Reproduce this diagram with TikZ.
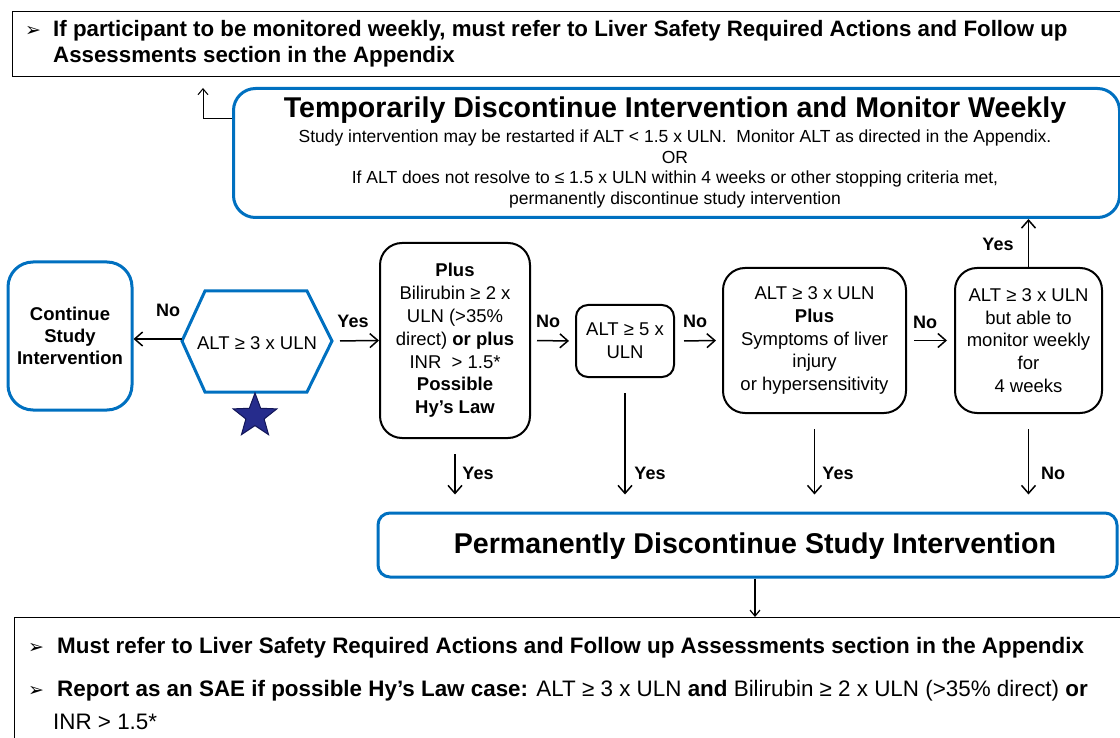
\documentclass[tikz,border=0pt]{standalone}
\usepackage{fontspec}
\setmainfont{Liberation Sans}
\newfontfamily\dejavu{DejaVu Sans}
\usetikzlibrary{arrows.meta,shapes.geometric,calc}
\definecolor{ablue}{RGB}{0,112,192}
\definecolor{starfill}{RGB}{38,44,140}
\definecolor{staredge}{RGB}{18,22,88}
\begin{document}
\begin{tikzpicture}[x=1pt,y=-1pt,
  bluebox/.style={draw=ablue, line width=3pt, rounded corners=22pt, align=center, inner sep=0pt},
  blackbox/.style={draw=black, line width=2pt, rounded corners=22pt, align=center, inner sep=0pt,
     font=\fontsize{18.5}{22.8}\selectfont},
  notebox/.style={draw=black, line width=1pt, inner sep=0pt, anchor=north west},
  arr/.style={-{Straight Barb[length=8pt,width=14pt]}, line width=1.5pt},
  thinarr/.style={-{Straight Barb[length=6pt,width=10pt]}, line width=1pt},
  lbl/.style={font=\fontsize{18}{20}\selectfont\bfseries, inner sep=0pt},
  body/.style={font=\fontsize{18.5}{22.8}\selectfont, inner sep=0pt},
  line/.style={anchor=base west, inner sep=0pt, font=\fontsize{22.4}{26}\selectfont},
  bullet/.style={anchor=base west, inner sep=0pt, font=\dejavu\fontsize{19}{22}\selectfont}
]
\useasboundingbox (0,0) rectangle (1120,738);

% top note
\node[notebox, minimum width=1120, minimum height=65] (top) at (12,11) {};
\node[bullet] (topb) at (25,37) {➢};
\node[line, font=\fontsize{22.3}{26}\selectfont\bfseries] (top1) at (53,37) {If participant to be monitored weekly, must refer to Liver Safety Required Actions and Follow up};
\node[line, font=\fontsize{22.3}{26}\selectfont\bfseries] (top2) at (53,62.5) {Assessments section in the Appendix};

% temporarily box
\node[bluebox, minimum width=886, minimum height=129, anchor=north west] (temp) at (232,87) {};
\node[font=\fontsize{28.6}{32}\selectfont\bfseries, inner sep=0pt] (ttl) at (675,110) {Temporarily Discontinue Intervention and Monitor Weekly};
\node[font=\fontsize{17.5}{20.7}\selectfont, align=center, inner sep=0pt] (tsub) at (675,169)
  {Study intervention may be restarted if ALT < 1.5 x ULN.\ \ Monitor ALT as directed in the Appendix.\\
   OR\\
   If ALT does not resolve to ≤ 1.5 x ULN within 4 weeks or other stopping criteria met,\\
   permanently discontinue study intervention};
\coordinate (up) at (203,88);
\draw[thinarr] ($(temp.north west)+(0,32)$) -| (up);

% continue box
\node[bluebox, rounded corners=25pt, minimum width=124, minimum height=148,
      font=\fontsize{18.5}{22}\selectfont\bfseries] (cont) at (70,336) {Continue\\Study\\Intervention};

% hexagon
\draw[ablue, line width=3pt] (182,341) -- (205,291) -- (307,291) -- (332,341) -- (307,392) -- (205,392) -- cycle;
\coordinate (hexW) at (182,339);
\coordinate (hexE) at (332,341);
\node[body] (hex) at (257,343) {ALT ≥ 3 x ULN};
\node[star, star points=5, star point ratio=2.4, fill=starfill, draw=staredge, line width=1pt,
      minimum size=46, inner sep=0pt] (star) at (255,416) {};

\draw[arr] (hexW) -- (hexW -| cont.east);
\node[lbl] (lno1) at (168,310) {No};

% Plus box
\node[blackbox, minimum width=150, minimum height=195] (plus) at (455,340.5)
  {\textbf{Plus}\\Bilirubin ≥ 2 x\\ULN (>35\%\\direct) \textbf{or plus}\\INR\ \ > 1.5*\\\textbf{Possible}\\\textbf{Hy’s Law}};
\draw[arr, shorten <=8pt] (hexE) -- (plus.west);
\node[lbl] (lyes1) at (353,321) {Yes};

% ALT >= 5
\node[blackbox, rounded corners=12pt, minimum width=98, minimum height=72] (a5) at (625,341) {ALT ≥ 5 x\\ULN};
\draw[arr, shorten <=6pt, shorten >=6pt] (plus.east) -- (a5.west);
\node[lbl] (lno2) at (548,321) {No};

% box 4
\node[blackbox, minimum width=183, minimum height=145] (b4) at (814.5,340.5)
  {ALT ≥ 3 x ULN\\\textbf{Plus}\\Symptoms of liver\\injury\\or hypersensitivity};
\draw[arr, shorten <=9pt, shorten >=6pt] (a5.east) -- (b4.west);
\node[lbl] (lno3) at (695,321) {No};

% box 5
\node[blackbox, minimum width=147, minimum height=145] (b5) at (1028.5,340.5)
  {ALT ≥ 3 x ULN\\but able to\\monitor weekly\\for\\4 weeks};
\draw[arr, shorten <=7pt, shorten >=7pt] (b4.east) -- (b5.west);
\node[lbl] (lno4) at (925,322) {No};
\draw[arr] (b5.north) -- (b5.north |- temp.south);
\node[lbl] (lyes2) at (998,244) {Yes};

% permanently box
\node[bluebox, rounded corners=12pt, minimum width=739, minimum height=64] (perm) at (747.5,545) {};
\node[font=\fontsize{28.6}{32}\selectfont\bfseries, inner sep=0pt] (permt) at (755,546) {Permanently Discontinue Study Intervention};

\draw[arr, shorten <=15pt, shorten >=17pt] (plus.south) -- (plus.south |- perm.north);
\draw[arr, shorten <=15pt, shorten >=17pt] (a5.south) -- (a5.south |- perm.north);
\draw[arr, shorten <=15pt, shorten >=17pt] (b4.south) -- (b4.south |- perm.north);
\draw[arr, shorten <=15pt, shorten >=17pt] (b5.south) -- (b5.south |- perm.north);
\node[lbl] (ly1) at (478,473) {Yes};
\node[lbl] (ly2) at (650,473) {Yes};
\node[lbl] (ly3) at (838,473) {Yes};
\node[lbl] (ln5) at (1053,473) {No};

% bottom note
\node[notebox, minimum width=1120, minimum height=140] (bot) at (14,617) {};
\draw[thinarr, line width=1.2pt] (permt |- perm.south) -- (permt |- bot.north);
\node[bullet] (bb1) at (28,653) {➢};
\node[line, font=\fontsize{22.4}{26}\selectfont\bfseries] (bl1) at (57,653) {Must refer to Liver Safety Required Actions and Follow up Assessments section in the Appendix};
\node[bullet] (bb2) at (28,696) {➢};
\node[line] (bl2) at (57,696) {\textbf{Report as an SAE if possible Hy’s Law case:} ALT ≥ 3 x ULN \textbf{and} Bilirubin ≥ 2 x ULN (>35\% direct) \textbf{or}};
\node[line] (bl3) at (53,729) {INR > 1.5*};
\end{tikzpicture}
\end{document}
